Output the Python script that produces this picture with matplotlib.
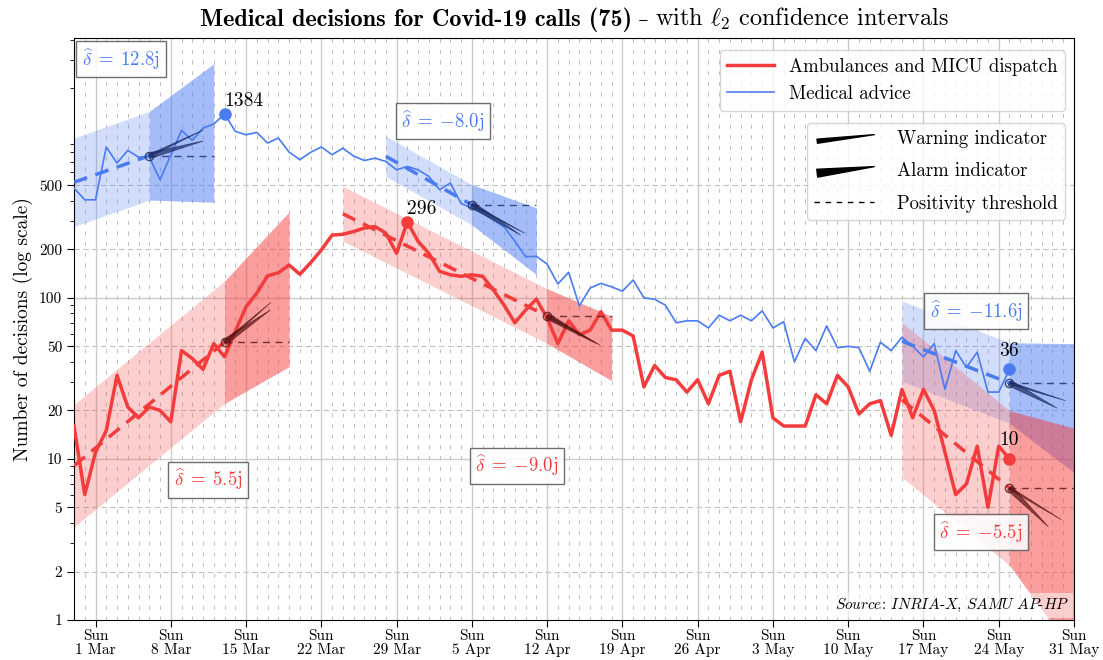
import numpy as np
import matplotlib
matplotlib.use("Agg")
import matplotlib.pyplot as plt
from matplotlib.patches import FancyArrowPatch
from matplotlib.legend_handler import HandlerBase
from matplotlib.lines import Line2D
from matplotlib.ticker import FixedLocator, FixedFormatter, NullFormatter
from matplotlib.offsetbox import TextArea, HPacker, AnchoredOffsetbox

plt.rcParams['font.family'] = ['cmr10', 'DejaVu Serif']
plt.rcParams['mathtext.fontset'] = 'cm'
plt.rcParams['axes.formatter.use_mathtext'] = True

# Days counted from Sunday 1 March 2020 (day 0); data runs Feb 28 .. May 25
days = np.arange(-2, 86)

ambulance = [16, 6, 11, 15, 33, 21, 18, 21, 20, 17,
             47, 42, 36, 52, 43, 62, 88, 107, 137, 143,
             160, 140, 165, 198, 245, 248, 258, 271, 277, 252,
             189, 296, 224, 189, 146, 139, 136, 139, 136, 112,
             90, 70, 84, 98, 75, 52, 72, 59, 63, 82,
             63, 63, 58, 28, 38, 32, 31, 26, 31, 22,
             33, 35, 17, 31, 46, 18, 16, 16, 16, 25,
             22, 33, 28, 19, 22, 23, 14, 27, 18, 27,
             20, 11, 6, 7, 12, 5, 12, 10]

advice = [480, 406, 406, 863, 686, 822, 748, 748, 541, 770,
          1096, 948, 1130, 1200, 1384, 1080, 1028, 1064, 914, 982,
          803, 720, 800, 864, 773, 849, 759, 712, 736, 702,
          623, 654, 623, 567, 469, 516, 385, 360, 335, 305,
          275, 225, 180, 181, 162, 122, 144, 89, 115, 123,
          117, 110, 129, 100, 98, 90, 70, 72, 72, 65,
          78, 72, 78, 72, 83, 65, 71, 40, 56, 47,
          67, 49, 50, 49, 35, 53, 47, 57, 50, 43,
          52, 27, 47, 37, 46, 26, 26, 36]

# Trend fits: fit window, forecast end, level at fit end, doubling time (days),
# log10 half-width of the confidence band at fit end and at forecast end
adv_fit_start = [-2, 27, 75]
adv_fit_end = [5, 35, 85]
adv_fc_end = [11, 41, 91]
adv_level = [762, 378, 29.6]
adv_delta = [12.8, -8.0, -11.6]
adv_w_fit = [0.275, 0.125, 0.25]
adv_w_end = [0.43, 0.207, 0.40]
adv_warn = [(5.0, 1100), (4.9, 252), (5.2, 23)]
adv_alarm = [(5.0, 940), (4.5, 246), (4.4, 20.7)]

amb_fit_start = [-2, 23, 75]
amb_fit_end = [12, 42, 85]
amb_fc_end = [18, 48, 91]
amb_level = [53, 77, 6.6]
amb_delta = [5.5, -9.0, -5.5]
amb_w_fit = [0.38, 0.17, 0.48]
amb_w_end = [0.48, 0.20, 0.70]
amb_warn = [(4.3, 93.5), (4.9, 51), (4.8, 4.2)]
amb_alarm = [(4.25, 84), (4.6, 52), (3.6, 3.8)]

adv_label_pos = [(0.047, 0.964), (0.369, 0.857), (0.902, 0.531)]
amb_label_pos = [(0.134, 0.241), (0.443, 0.265), (0.907, 0.151)]

sunday_days = np.arange(0, 92, 7)
tick_labels = ["Sun\n1 Mar", "Sun\n8 Mar", "Sun\n15 Mar", "Sun\n22 Mar", "Sun\n29 Mar",
               "Sun\n5 Apr", "Sun\n12 Apr", "Sun\n19 Apr", "Sun\n26 Apr", "Sun\n3 May",
               "Sun\n10 May", "Sun\n17 May", "Sun\n24 May", "Sun\n31 May"]
y_major = [1, 2, 5, 10, 20, 50, 100, 200, 500]

RED = '#f43c3c'
BLUE = '#4a7bf0'
DARK_RED = '#5a1414'
DARK_BLUE = '#1c2b62'

fig = plt.figure(figsize=(11.03, 6.6), dpi=100)
ax = fig.add_axes([0.0671, 0.0606, 0.9066, 0.8818])
ax.set_yscale('log')
ax.set_xlim(-2, 91)
ax.set_ylim(1, 4100)


def draw_fits(fs_l, fe_l, fc_l, lv_l, dl_l, wf_l, we_l, warn_l, alarm_l, pos_l, col, dark):
    for fs, fe, fc, lv, dl, wf, we, wn, al, pos in zip(fs_l, fe_l, fc_l, lv_l, dl_l,
                                                       wf_l, we_l, warn_l, alarm_l, pos_l):
        slope = np.log10(2) / dl
        t1 = np.array([fs, fe])
        L1 = np.log10(lv) + (t1 - fe) * slope
        ax.fill_between(t1, 10 ** (L1 - wf), 10 ** (L1 + wf), color=col, alpha=0.25,
                        lw=0, zorder=1)
        t2 = np.array([fe, fc])
        L2 = np.log10(lv) + (t2 - fe) * slope
        w2 = np.array([wf, we])
        ax.fill_between(t2, 10 ** (L2 - w2), 10 ** (L2 + w2), color=col, alpha=0.5,
                        lw=0, zorder=1)
        ax.plot(t1, 10 ** L1, color=col, lw=2.5, ls=(0, (4, 2.5)), zorder=3)
        ax.plot([fe, fc], [lv, lv], color=dark, lw=1.0, ls=(0, (5, 4)), alpha=0.8, zorder=4)
        for (dd, vv), tw in ((wn, 0.17), (al, 0.42)):
            ax.add_patch(FancyArrowPatch((fe, lv), (fe + dd, vv),
                                         arrowstyle=f'wedge,tail_width={tw},shrink_factor=0.5',
                                         mutation_scale=10, color=dark, alpha=0.7,
                                         shrinkA=0, shrinkB=0, lw=0.6, zorder=5))
        ax.plot(fe, lv, 'o', mfc='none', mec=dark, ms=6, mew=1.0, alpha=0.8, zorder=5)
        txt = r'$\widehat{\delta}\;=\;{%s}\mathrm{j}$' % (f'{dl:.1f}')
        ax.text(pos[0], pos[1], txt, transform=ax.transAxes, ha='center', va='center',
                color=col, fontsize=13.5, zorder=7,
                bbox=dict(boxstyle='square,pad=0.3', fc='white', ec='#555555', lw=1,
                          alpha=0.85))


draw_fits(adv_fit_start, adv_fit_end, adv_fc_end, adv_level, adv_delta, adv_w_fit,
          adv_w_end, adv_warn, adv_alarm, adv_label_pos, BLUE, DARK_BLUE)
draw_fits(amb_fit_start, amb_fit_end, amb_fc_end, amb_level, amb_delta, amb_w_fit,
          amb_w_end, amb_warn, amb_alarm, amb_label_pos, RED, DARK_RED)

# Main series
l_amb, = ax.plot(days, ambulance, color=RED, lw=2.5, zorder=3,
                 label='Ambulances and MICU dispatch')
l_adv, = ax.plot(days, advice, color=BLUE, lw=1.2, zorder=3, label='Medical advice')

# Highlighted points: peaks and last values
for series, col in ((advice, BLUE), (ambulance, RED)):
    i = int(np.argmax(series))
    ax.plot(days[i], series[i], 'o', color=col, ms=8, zorder=6)
    ax.annotate(str(series[i]), (days[i], series[i]), xytext=(0, 3),
                textcoords='offset points', ha='left', va='bottom', fontsize=14, zorder=7)
    ax.plot(days[-1], series[-1], 'o', color=col, ms=8, zorder=6)
    ax.annotate(str(series[-1]), (days[-1], series[-1]), xytext=(0, 7),
                textcoords='offset points', ha='center', va='bottom', fontsize=14, zorder=7)

# Axes, ticks and grid
ax.xaxis.set_major_locator(FixedLocator(sunday_days))
ax.xaxis.set_major_formatter(FixedFormatter(tick_labels))
ax.xaxis.set_minor_locator(FixedLocator([d for d in range(-2, 92) if d % 7 != 0]))
ax.yaxis.set_major_locator(FixedLocator(y_major))
ax.yaxis.set_major_formatter(FixedFormatter([str(v) for v in y_major]))
minor_y = [m * 10 ** e for e in range(4) for m in range(2, 10) if m * 10 ** e not in y_major]
ax.yaxis.set_minor_locator(FixedLocator([v for v in minor_y if v != 1000]))
ax.yaxis.set_minor_formatter(NullFormatter())
ax.tick_params(axis='x', which='minor', length=0)
ax.tick_params(axis='both', which='major', labelsize=11, length=5, direction='out')
ax.tick_params(axis='x', which='major', pad=2)
ax.tick_params(axis='y', which='minor', length=3)
for lab in ax.get_xticklabels():
    lab.set_linespacing(1.0)

ax.set_axisbelow(True)
ax.grid(True, axis='x', which='major', color='#cccccc', lw=1.0, zorder=0)
ax.grid(True, axis='x', which='minor', color='#bdbdbd', lw=0.7, ls=(0, (4, 7)), zorder=0)
for v in y_major[1:]:
    if v in (10, 100):
        ax.axhline(v, color='#cccccc', lw=1.0, zorder=0)
    else:
        ax.axhline(v, color='#c0c0c0', lw=0.8, ls=(0, (5, 3)), zorder=0)

ax.set_ylabel('Number of decisions (log scale)', fontsize=14)

# Title: bold first part, regular second part
title_parts = [TextArea('Medical decisions for Covid-19 calls (75)',
                        textprops=dict(family='cmb10', size=17.5)),
               TextArea(' \u2013 ', textprops=dict(family='DejaVu Serif', size=14.5)),
               TextArea(r'with $\ell_2$ confidence intervals', textprops=dict(size=17.5))]
title_box = HPacker(children=title_parts, align='baseline', pad=0, sep=0)
ax.add_artist(AnchoredOffsetbox(loc='lower center', child=title_box, pad=0, frameon=False,
                                bbox_to_anchor=(0.5, 1.0), bbox_transform=ax.transAxes,
                                borderpad=0.45))

ax.text(0.995, 0.01, r'$\mathit{Source}$: $\mathit{INRIA}$-$\mathit{X}$, '
        r'$\mathit{SAMU\ AP}$-$\mathit{HP}$',
        transform=ax.transAxes, ha='right', va='bottom', fontsize=11, zorder=8,
        bbox=dict(boxstyle='square,pad=0.25', fc='white', ec='none', alpha=0.5))


class WedgeHandler(HandlerBase):
    def __init__(self, tail):
        super().__init__()
        self.tail = tail

    def create_artists(self, legend, orig_handle, xdescent, ydescent, width, height,
                       fontsize, trans):
        p = FancyArrowPatch((-xdescent + 0.05 * width, -ydescent + 0.25 * height),
                            (-xdescent + width, -ydescent + 0.75 * height),
                            arrowstyle=f'wedge,tail_width={self.tail},shrink_factor=0.5',
                            mutation_scale=fontsize, color='k', shrinkA=0, shrinkB=0,
                            transform=trans)
        return [p]


leg1 = ax.legend(handles=[l_amb, l_adv], loc='upper right', bbox_to_anchor=(0.991, 0.979),
                 borderaxespad=0, fontsize=13.5, handlelength=2.5, framealpha=0.8,
                 edgecolor='#cccccc')
leg1.set_zorder(9)
ax.add_artist(leg1)
h_warn = Line2D([], [], color='k')
h_alarm = Line2D([], [], color='k')
h_thr = Line2D([], [], color='k', lw=1, ls=(0, (4, 4)))
leg2 = ax.legend(handles=[h_warn, h_alarm, h_thr],
                 labels=['Warning indicator', 'Alarm indicator', 'Positivity threshold'],
                 handler_map={h_warn: WedgeHandler(0.22), h_alarm: WedgeHandler(0.42)},
                 loc='upper right', bbox_to_anchor=(0.991, 0.854), borderaxespad=0,
                 fontsize=13.5, handlelength=3.2, handletextpad=1.2, labelspacing=0.75,
                 framealpha=0.8, edgecolor='#cccccc')
leg2.set_zorder(9)

fig.savefig('out.png', dpi=100)
